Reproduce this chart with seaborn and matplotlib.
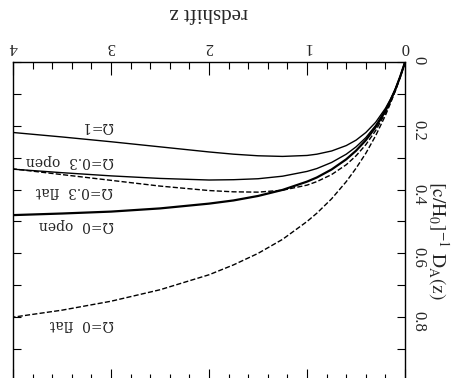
import numpy as np
import pandas as pd
import matplotlib
matplotlib.use("Agg")
import matplotlib.pyplot as plt
import seaborn as sns
from matplotlib.ticker import MultipleLocator, FixedLocator

# redshift samples and angular diameter distance
z = [0, 0.05, 0.1, 0.15, 0.2, 0.3, 0.4, 0.5, 0.6, 0.75, 0.9, 1.0, 1.25,
     1.5, 1.75, 2.0, 2.5, 3.0, 3.5, 4.0]
da_omega1 = [0, 0.046, 0.085, 0.117, 0.145, 0.189, 0.221, 0.245, 0.262,
             0.279, 0.289, 0.293, 0.296, 0.294, 0.289, 0.282, 0.266, 0.250,
             0.235, 0.221]
da_omega03_open = [0, 0.046, 0.086, 0.120, 0.150, 0.199, 0.237, 0.266, 0.289,
                   0.315, 0.334, 0.343, 0.358, 0.366, 0.369, 0.370, 0.365,
                   0.357, 0.347, 0.336]
da_omega03_flat = [0, 0.047, 0.089, 0.126, 0.159, 0.215, 0.259, 0.294, 0.322,
                   0.353, 0.375, 0.386, 0.402, 0.408, 0.407, 0.403, 0.389,
                   0.371, 0.353, 0.335]
da_omega0_open = [0, 0.046, 0.087, 0.122, 0.153, 0.204, 0.245, 0.278, 0.305,
                  0.337, 0.362, 0.375, 0.401, 0.420, 0.434, 0.444, 0.459,
                  0.469, 0.475, 0.480]
da_omega0_flat = [0, 0.048, 0.091, 0.130, 0.167, 0.231, 0.286, 0.333, 0.375,
                  0.429, 0.474, 0.500, 0.556, 0.600, 0.636, 0.667, 0.714,
                  0.750, 0.778, 0.800]

labels = ["Ω=1", "Ω=0.3  open", "Ω=0.3  flat", "Ω=0  open", "Ω=0  flat"]
label_z = [3.14, 3.42, 3.37, 3.35, 3.30]
label_d = [0.200, 0.310, 0.404, 0.510, 0.820]

curves = {
    "Ω=1": (da_omega1, "-", 1.0),
    "Ω=0.3  open": (da_omega03_open, "-", 1.0),
    "Ω=0.3  flat": (da_omega03_flat, "--", 1.0),
    "Ω=0  open": (da_omega0_open, "-", 1.6),
    "Ω=0  flat": (da_omega0_flat, "--", 1.0),
}

sns.set_style("ticks")
plt.rcParams["font.family"] = ["Liberation Serif", "DejaVu Serif"]
plt.rcParams["mathtext.fontset"] = "stix"

fig = plt.figure(figsize=(4.57, 3.78), dpi=100)
ax = fig.add_axes([0.0284, -0.0079, 0.858, 0.8439])

for name, (vals, ls, lw) in curves.items():
    df = pd.DataFrame({"z": z, "D": vals})
    sns.lineplot(data=df, x="z", y="D", ax=ax, color="black",
                 linestyle=ls, linewidth=lw, sort=False)

for txt, lz, ld in zip(labels, label_z, label_d):
    ax.text(lz, ld, txt, rotation=180, ha="center", va="center",
            fontsize=10, family=["DejaVu Serif"])

ax.set_xlim(0, 4)
ax.set_ylim(0, 1.0)
ax.invert_xaxis()
ax.invert_yaxis()

ax.xaxis.set_major_locator(MultipleLocator(1))
ax.xaxis.set_minor_locator(MultipleLocator(0.2))
ax.yaxis.set_major_locator(FixedLocator([0, 0.2, 0.4, 0.6, 0.8]))
ax.yaxis.set_minor_locator(FixedLocator([0.1, 0.3, 0.5, 0.7, 0.9]))
ax.xaxis.set_major_formatter(plt.FuncFormatter(lambda v, p: f"{v:g}"))
ax.yaxis.set_major_formatter(plt.FuncFormatter(lambda v, p: f"{v:g}"))

ax.tick_params(which="both", direction="in", top=True, bottom=True,
               left=True, right=True, labeltop=True, labelbottom=False,
               labelleft=False, labelright=True, color="black", width=0.8)
ax.tick_params(axis="x", which="major", length=9, labelrotation=180,
               labelsize=12, pad=5)
ax.tick_params(axis="x", which="minor", length=5)
ax.tick_params(axis="y", which="both", length=6, labelrotation=270,
               labelsize=12, pad=4)

ax.xaxis.set_label_position("top")
ax.yaxis.set_label_position("right")
ax.set_xlabel("redshift z", rotation=180, fontsize=15, labelpad=16)
ax.set_ylabel(r"$\mathrm{[c/H_0]^{-1}\ D_A(z)}$", rotation=270, fontsize=14,
              ha="center", va="center", rotation_mode="default")
ax.yaxis.set_label_coords(1.085, 0.44)

for s in ax.spines.values():
    s.set_linewidth(1.0)
    s.set_color("black")

fig.savefig("out.png", dpi=100)
